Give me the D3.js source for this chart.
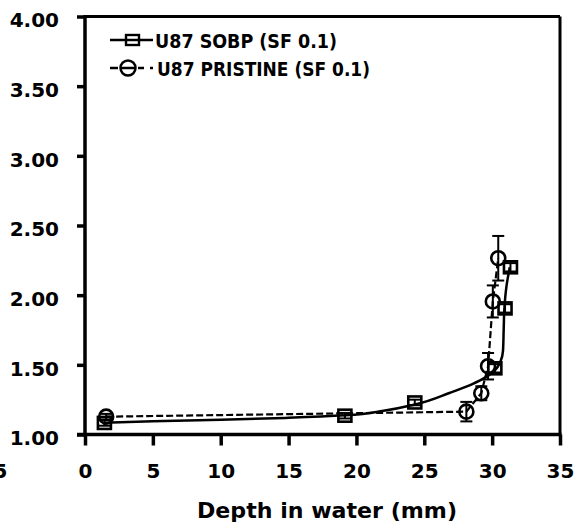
<!DOCTYPE html>
<html><head><meta charset="utf-8">
<script src="https://cdn.jsdelivr.net/npm/d3@7"></script>
<style>html,body{margin:0;padding:0;background:#fff;}svg{display:block;}</style>
</head><body>
<svg id="chart" width="578" height="528"></svg>
<script>
// ---- data ----
const xTickValues = [0, 5, 10, 15, 20, 25, 30, 35];
const yTickValues = [1.0, 1.5, 2.0, 2.5, 3.0, 3.5, 4.0];
const seriesNames = ["U87 SOBP (SF 0.1)", "U87 PRISTINE (SF 0.1)"];
const xTitle = "Depth in water (mm)";

// SOBP measured points (depth mm, value, error)
const sobpX   = [1.43, 19.15, 24.3, 30.2, 30.95, 31.35];
const sobpY   = [1.083, 1.135, 1.23, 1.475, 1.905, 2.2];
const sobpErr = [0.02, 0.02, 0.02, 0.03, 0.03, 0.03];
// SOBP fitted curve
const sobpFitX = [1.4, 5, 10, 15, 19.2, 22, 24.3, 26.9, 28.5, 29.6, 30.2, 30.6, 30.8, 30.85, 30.9, 31.05, 31.3];
const sobpFitY = [1.085, 1.095, 1.105, 1.12, 1.138, 1.17, 1.215, 1.30, 1.36, 1.415, 1.46, 1.52, 1.6, 1.75, 1.9, 2.06, 2.2];

// PRISTINE measured points
const priX   = [1.56, 28.1, 29.2, 29.7, 30.05, 30.45];
const priY   = [1.128, 1.164, 1.296, 1.49, 1.955, 2.265];
const priErr = [0.02, 0.07, 0.05, 0.095, 0.115, 0.16];

// ---- drawing ----
const svg = d3.select("#chart");
const x = d3.scaleLinear().domain([0, 35]).range([85, 560]);
const y = d3.scaleLinear().domain([1, 4]).range([434.5, 16.5]);
const FONT = "DejaVu Sans, Verdana, sans-serif";

// frame (top & right)
svg.append("line").attr("x1", x(0)).attr("x2", x(35)).attr("y1", y(4)).attr("y2", y(4))
  .attr("stroke", "#000").attr("stroke-width", 3);
svg.append("line").attr("x1", x(35)).attr("x2", x(35)).attr("y1", y(4)).attr("y2", y(1))
  .attr("stroke", "#000").attr("stroke-width", 3);

// axes
const xAxis = svg.append("g").attr("transform", `translate(0,${y(1)})`)
  .call(d3.axisBottom(x).tickValues(xTickValues).tickSize(11).tickPadding(18).tickSizeOuter(0));
const yAxis = svg.append("g").attr("transform", `translate(${x(0)},0)`)
  .call(d3.axisLeft(y).tickValues(yTickValues).tickSize(8).tickPadding(18).tickSizeOuter(0)
    .tickFormat(d3.format(".2f")));
[xAxis, yAxis].forEach(g => {
  g.select(".domain").attr("stroke", "#000").attr("stroke-width", 3.5);
  g.selectAll(".tick line").attr("stroke", "#000").attr("stroke-width", 3.5);
  g.selectAll(".tick text").attr("fill", "#000").attr("font-family", FONT)
    .attr("font-weight", "bold").attr("font-size", 20);
});
xAxis.selectAll(".tick text").attr("dy", "0.71em").attr("y", 29);
yAxis.selectAll(".tick text").attr("dy", "0.36em").attr("y", 3).attr("x", -26);
// extend domain a bit to cover corners
xAxis.select(".domain").attr("d", `M${x(0) - 8},0H${x(35) + 1.5}`);
yAxis.select(".domain").attr("d", `M0,${y(4) - 1.5}V${y(1) + 1.5}`);

// clipped "-5" label at the far left
svg.append("text").attr("x", 7.5).attr("y", 478).attr("text-anchor", "end")
  .attr("font-family", FONT).attr("font-weight", "bold").attr("font-size", 20).text("-5");

// x title
svg.append("text").attr("x", 197).attr("y", 518)
  .attr("font-family", FONT).attr("font-weight", "bold").attr("font-size", 22)
  .attr("textLength", 260).attr("lengthAdjust", "spacingAndGlyphs").text(xTitle);

// lines
const sobpFit = sobpFitX.map((d, i) => [d, sobpFitY[i]]);
const pri = priX.map((d, i) => ({x: d, y: priY[i], e: priErr[i]}));
const sobp = sobpX.map((d, i) => ({x: d, y: sobpY[i], e: sobpErr[i]}));

svg.append("path").datum(sobpFit)
  .attr("d", d3.line().x(d => x(d[0])).y(d => y(d[1])).curve(d3.curveMonotoneY))
  .attr("fill", "none").attr("stroke", "#000").attr("stroke-width", 2.5);
svg.append("path").datum(pri)
  .attr("d", d3.line().x(d => x(d.x)).y(d => y(d.y)))
  .attr("fill", "none").attr("stroke", "#000").attr("stroke-width", 2.2)
  .attr("stroke-dasharray", "7,3");

// error bars
function errBars(data) {
  const g = svg.append("g").attr("stroke", "#000").attr("stroke-width", 2);
  data.forEach(d => {
    g.append("line").attr("x1", x(d.x)).attr("x2", x(d.x)).attr("y1", y(d.y - d.e)).attr("y2", y(d.y + d.e));
    g.append("line").attr("x1", x(d.x) - 6).attr("x2", x(d.x) + 6).attr("y1", y(d.y + d.e)).attr("y2", y(d.y + d.e));
    g.append("line").attr("x1", x(d.x) - 6).attr("x2", x(d.x) + 6).attr("y1", y(d.y - d.e)).attr("y2", y(d.y - d.e));
  });
}
errBars(sobp);
errBars(pri);

// markers
svg.append("g").selectAll("rect").data(sobp).join("rect")
  .attr("x", d => x(d.x) - 6.5).attr("y", d => y(d.y) - 6)
  .attr("width", 13).attr("height", 12)
  .attr("fill", "none").attr("stroke", "#000").attr("stroke-width", 2.6);
svg.append("g").selectAll("circle").data(pri).join("circle")
  .attr("cx", d => x(d.x)).attr("cy", d => y(d.y)).attr("r", 7)
  .attr("fill", "none").attr("stroke", "#000").attr("stroke-width", 2.6);

// legend
const lg = svg.append("g");
lg.append("line").attr("x1", 110).attr("x2", 153).attr("y1", 40).attr("y2", 40)
  .attr("stroke", "#000").attr("stroke-width", 2.5);
lg.append("rect").attr("x", 126).attr("y", 35).attr("width", 13).attr("height", 10)
  .attr("fill", "none").attr("stroke", "#000").attr("stroke-width", 2.4);
lg.append("text").attr("x", 155).attr("y", 47.5)
  .attr("font-family", FONT).attr("font-weight", "bold").attr("font-size", 20)
  .attr("textLength", 182).attr("lengthAdjust", "spacingAndGlyphs").text(seriesNames[0]);

lg.append("line").attr("x1", 110).attr("x2", 153).attr("y1", 68).attr("y2", 68)
  .attr("stroke", "#000").attr("stroke-width", 2.5).attr("stroke-dasharray", "8,2,16,2,6,6,3,20");
lg.append("circle").attr("cx", 128).attr("cy", 68).attr("r", 7.5)
  .attr("fill", "none").attr("stroke", "#000").attr("stroke-width", 2.5);
lg.append("text").attr("x", 157).attr("y", 75.5)
  .attr("font-family", FONT).attr("font-weight", "bold").attr("font-size", 20)
  .attr("textLength", 213).attr("lengthAdjust", "spacingAndGlyphs").text(seriesNames[1]);
</script>
</body></html>
